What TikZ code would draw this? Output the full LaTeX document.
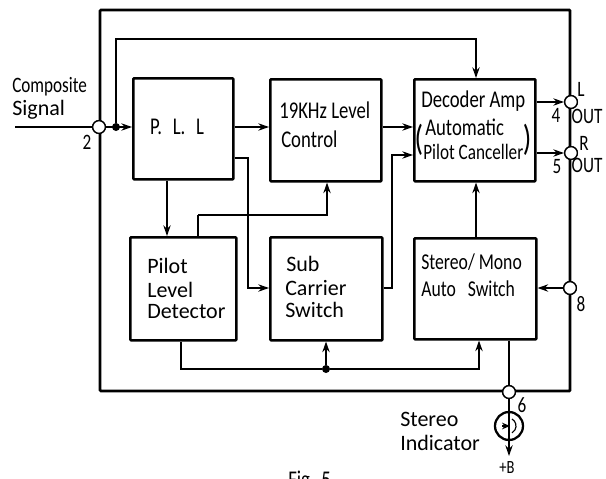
\documentclass[tikz,border=0pt]{standalone}
\usepackage{fontspec}
\setmainfont[FakeStretch=0.78]{Carlito}
\newfontfamily\widefont{Carlito}
\usetikzlibrary{arrows.meta,calc}
\tikzset{
 blockbox/.style={draw,line width=1.9pt,rounded corners=0.6pt,inner sep=0pt,anchor=north west},
 pinring/.style={circle,draw,fill=white,line width=1pt,minimum size=9.5pt,inner sep=0pt},
 wire/.style={line width=1.1pt},
 flow/.style={wire,-{Stealth[length=8pt,width=5.5pt]}},
 lbl/.style={inner sep=0pt,font=\fontsize{16.5pt}{18pt}\selectfont,align=left},
 lblb/.style={lbl,font=\fontsize{18pt}{18pt}\selectfont},
 lblw/.style={lbl,font=\widefont\fontsize{16.5pt}{18pt}\selectfont},
 junction/.style={circle,fill=black,minimum size=6pt,inner sep=0pt},
}
\newcommand{\blk}[5]{\node[blockbox,minimum width=#4*0.75pt,minimum height=#5*0.75pt] (#1) at (#2,#3) {};}
\begin{document}
\begin{tikzpicture}[x=0.75pt,y=-0.75pt]
\useasboundingbox (0,0) rectangle (606,478);
\clip (0,0) rectangle (606,478);
% outer frame
\coordinate (fnw) at (100,10); \coordinate (fne) at (570,10);
\coordinate (fse) at (570,391); \coordinate (fsw) at (100,391);
\draw[line width=1.9pt,rounded corners=0.6pt] (fnw) -- (fne) -- (fse) -- (fsw) -- cycle;
% blocks
\blk{pll}{132}{77}{100}{101}
\blk{lvl}{269}{78}{111}{102}
\blk{dec}{413}{78}{121}{102}
\blk{pld}{129}{236}{106}{103}
\blk{sub}{269}{236}{112}{103}
\blk{sms}{413}{237}{122}{101}
% pins
\node[pinring] (p2) at (99,127) {};
\node[pinring] (pL) at (571,102) {};
\node[pinring] (pR) at (571,153) {};
\node[pinring] (p8) at (570,288) {};
\node[pinring] (p6) at (509,392) {};
% named points
\coordinate (in) at (15,127);
\node[junction] (j1) at (116,127) {};
\node[junction] (j2) at (326,369) {};
\coordinate (a1) at (116,39); \coordinate (a2) at (476,39);
\coordinate (b1) at (248,158); \coordinate (b2) at (248,288);
\coordinate (c1) at (198,215); \coordinate (c2) at (327,215);
\coordinate (d1) at (392,288); \coordinate (d2) at (392,155);
\coordinate (e1) at (181,369); \coordinate (e2) at (479,369);
% wires
\draw[wire] (in) -- (p2);
\draw[flow] (p2) -- (pll.west |- p2);
\draw[flow] (j1) -- (a1) -- (a2) -- (dec.north -| a2);
\draw[flow] (pll.east |- 0,127) -- (lvl.west |- 0,127);
\draw[flow] (pll.east |- b1) -- (b1) -- (b2) -- (sub.west |- b2);
\draw[flow] (pll.south -| 167,0) -- (pld.north -| 167,0);
\draw[wire] (pld.north -| c1) -- (c1);
\draw[flow] (c1) -- (c2) -- (lvl.south -| c2);
\draw[flow] (lvl.east |- 0,127) -- (dec.west |- 0,127);
\draw[flow] (sub.east |- d1) -- (d1) -- (d2) -- (dec.west |- d2);
\draw[flow] (dec.east |- pL) -- (pL);
\draw[flow] (dec.east |- pR) -- (pR);
\draw[flow] (sms.north -| a2) -- (dec.south -| a2);
\draw[flow] (p8) -- (sms.east |- p8);
\draw[wire] (pld.south -| e1) -- (e1) -- (j2);
\draw[flow] (j2) -- (e2) -- (sms.south -| e2);
\draw[flow] (j2) -- (sub.south -| j2);
\draw[wire,line width=1.3pt] (sms.south -| p6) -- (p6);
% indicator
\node[circle,draw,line width=1.7pt,minimum size=21pt,inner sep=0pt] (ind) at (509,426) {};
\coordinate (plus) at (509,456);
\draw[wire] (p6) -- (ind);
\draw[flow] (ind.south) -- (plus);
\draw[wire,line width=1.2pt] (ind.north) -- (ind.south);
\draw[line width=1pt,-{Stealth[length=6pt,width=5pt]}] ($(ind)+(-7,0)$) -- ($(ind)+(1,0)$);
\draw[line width=0.9pt] (ind)+(3,-7) arc (-60:60:8);
\foreach \q in {p2,pL,pR,p8,p6}{\node[pinring] at (\q) {};}
% labels
\node[lbl,anchor=west] (t1) at (12,87) {Composite};
\node[lblw,anchor=west] (t2) at (12,110) {Signal};
\node[lbl,anchor=center] (t3) at (87,142) {2};
\node[lblb,anchor=center] (t4) at (177,127) {P.\;\,L.\;\,L};
\node[lblb,anchor=west] (t5) at (279,110) {19KHz Level};
\node[lblb,anchor=west] (t6) at (281,139) {Control};
\node[lblb,anchor=west] (t7) at (421,101) {Decoder Amp};
\node[lblb,anchor=west] (t8) at (425,127) {Automatic};
\node[lbl,anchor=center,font=\fontsize{27pt}{27pt}\selectfont] (t8a) at (419,140) {(};
\node[lbl,anchor=center,font=\fontsize{27pt}{27pt}\selectfont] (t8b) at (527,140) {)};
\node[lbl,anchor=west] (t9) at (423,152) {Pilot Canceller};
\node[lbl,anchor=center] (t10) at (581,89) {L};
\node[lbl,anchor=center] (t11) at (587,116) {OUT};
\node[lbl,anchor=center] (t12) at (556,115) {4};
\node[lbl,anchor=center] (t13) at (584,143) {R};
\node[lbl,anchor=center] (t14) at (587,165) {OUT};
\node[lbl,anchor=center] (t15) at (557,167) {5};
\node[lblw,anchor=west] (t16) at (147,266) {Pilot};
\node[lblw,anchor=west] (t17) at (147,290) {Level};
\node[lblw,anchor=west] (t18) at (147,312) {Detector};
\node[lblw,anchor=west] (t19) at (286,264) {Sub};
\node[lblw,anchor=west] (t20) at (285,288) {Carrier};
\node[lblw,anchor=west] (t21) at (285,310) {Switch};
\node[lbl,anchor=west,font=\fontsize{17pt}{18pt}\selectfont] (t22) at (421,262) {Stereo/ Mono};
\node[lbl,anchor=west,font=\fontsize{17pt}{18pt}\selectfont] (t23) at (421,289) {Auto\ \ \ Switch};
\node[lbl,anchor=center] (t24) at (581,304) {8};
\node[lbl,anchor=center] (t25) at (522,405) {6};
\node[lblw,anchor=west] (t26) at (400,419) {Stereo};
\node[lblw,anchor=west] (t27) at (400,443) {Indicator};
\node[lbl,anchor=center,font=\fontsize{14pt}{14pt}\selectfont] (t28) at (507,468) {+B};
\node[lblb,anchor=north west] (t29) at (288,471) {Fig.\;5};
\end{tikzpicture}
\end{document}
